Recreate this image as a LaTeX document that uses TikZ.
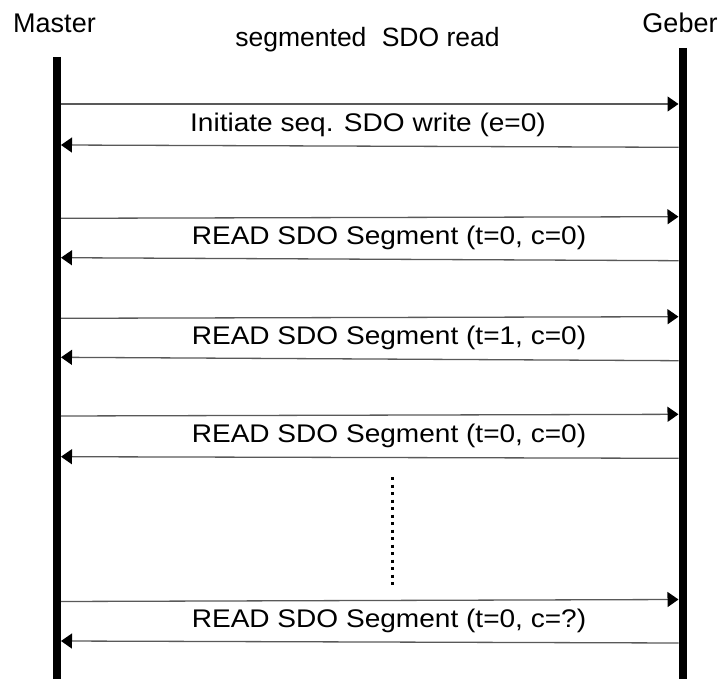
\documentclass[tikz,border=0pt]{standalone}
\usepackage{fontspec}
\setmainfont{Liberation Sans}
\usetikzlibrary{arrows.meta}
\newcommand\widelabel[1]{\scalebox{1.1}[1]{#1}}
\tikzset{
  lifeline/.style={line width=8pt, black},
  msg/.style={line width=1.3pt, black!65,
    -{Triangle[length=11pt,width=15pt,color=black]}},
  actor/.style={inner sep=0pt, anchor=base, font=\fontsize{27}{30}\selectfont},
  msglabel/.style={inner sep=0pt, anchor=base, font=\fontsize{25.5}{30}\selectfont},
  gap/.style={line width=3pt, dash pattern=on 3pt off 4.5pt, black}
}
\begin{document}
\begin{tikzpicture}[x=1pt, y=-1pt]
  \useasboundingbox (0,0) rectangle (721,679);

  % participants and title
  \node[actor] (master) at (54.5,33) {Master};
  \node[actor] (geber) at (680,33) {Geber};
  \node[actor] (title) at (367.5,47) {\fontsize{26.5}{30}\selectfont segmented\hspace{0.3em} SDO read};

  % lifelines
  \coordinate (mtop) at (57,57);
  \coordinate (mbot) at (57,679);
  \coordinate (gtop) at (682.5,48);
  \coordinate (gbot) at (682.5,679);
  \draw[lifeline] (mtop) -- (mbot);
  \draw[lifeline] (gtop) -- (gbot);

  % message end points on the master (m) and geber (g) side
  \coordinate (m1a) at (61,104);    \coordinate (g1a) at (678.5,104);
  \coordinate (g1b) at (678.5,147.3); \coordinate (m1b) at (61,145);
  \coordinate (m2a) at (61,218.3);  \coordinate (g2a) at (678.5,216.7);
  \coordinate (g2b) at (678.5,260.7); \coordinate (m2b) at (61,257.7);
  \coordinate (m3a) at (61,318.3);  \coordinate (g3a) at (678.5,316.7);
  \coordinate (g3b) at (678.5,360.7); \coordinate (m3b) at (61,357.3);
  \coordinate (m4a) at (61,416);    \coordinate (g4a) at (678.5,414.3);
  \coordinate (g4b) at (678.5,458.3); \coordinate (m4b) at (61,456.7);
  \coordinate (m5a) at (61,601.5);  \coordinate (g5a) at (678.5,599.5);
  \coordinate (g5b) at (678.5,643); \coordinate (m5b) at (61,641);

  % requests and responses
  \foreach \i in {1,...,5} {
    \draw[msg] (m\i a) -- (g\i a);
    \draw[msg] (g\i b) -- (m\i b);
  }

  % message labels
  \node[msglabel] (l1) at (368,132) {\widelabel{Initiate seq. SDO write (e=0)}};
  \node[msglabel] (l2) at (389,245) {\widelabel{READ SDO Segment (t=0, c=0)}};
  \node[msglabel] (l3) at (389,344.5) {\widelabel{READ SDO Segment (t=1, c=0)}};
  \node[msglabel] (l4) at (389,442) {\widelabel{READ SDO Segment (t=0, c=0)}};
  \node[msglabel] (l5) at (389,627) {\widelabel{READ SDO Segment (t=0, c=?)}};

  % omitted segments
  \coordinate (dtop) at (392.5,477);
  \coordinate (dbot) at (392.5,589);
  \draw[gap] (dtop) -- (dbot);
\end{tikzpicture}
\end{document}
